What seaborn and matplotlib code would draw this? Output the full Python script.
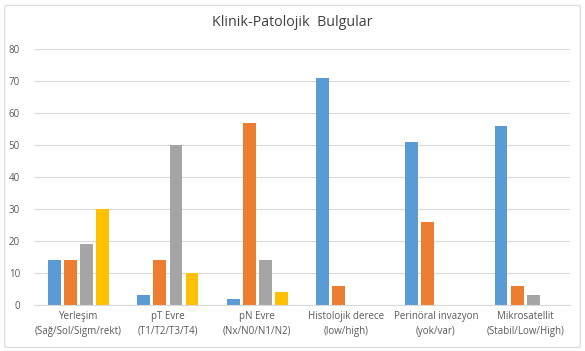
import matplotlib
matplotlib.use("Agg")
import matplotlib.pyplot as plt
import seaborn as sns
import pandas as pd
import numpy as np
from matplotlib.patches import FancyBboxPatch

categories = ["Yerleşim\n(Sağ/Sol/Sigm/rekt)", "pT Evre\n(T1/T2/T3/T4)", "pN Evre\n(Nx/N0/N1/N2)",
              "Histolojik derece\n(low/high)", "Perinöral invazyon\n(yok/var)", "Mikrosatellit\n(Stabil/Low/High)"]
series_names = ["Seri 1", "Seri 2", "Seri 3", "Seri 4"]
seri1 = [14, 3, 2, 71, 51, 56]
seri2 = [14, 14, 57, 6, 26, 6]
seri3 = [19, 50, 14, np.nan, np.nan, 3]
seri4 = [30, 10, 4, np.nan, np.nan, np.nan]
colors = ["#5B9BD5", "#ED7D31", "#A5A5A5", "#FFC000"]
yticks = [0, 10, 20, 30, 40, 50, 60, 70, 80]

rows = []
for name, vals in zip(series_names, [seri1, seri2, seri3, seri4]):
    for c, v in zip(categories, vals):
        rows.append({"cat": c, "series": name, "value": v})
df = pd.DataFrame(rows)

sns.set_theme(style="white")
plt.rcParams["font.family"] = ["Open Sans", "DejaVu Sans"]

fig = plt.figure(figsize=(5.85, 3.51), dpi=100)
ax = fig.add_axes([0.058, 0.131, 0.916, 0.729])
sns.barplot(data=df, x="cat", y="value", hue="series", order=categories, hue_order=series_names,
            palette=colors, width=0.72, gap=0.2, saturation=1, ax=ax, legend=False, errorbar=None,
            linewidth=0)

ax.set_xlim(-0.5, 5.5)
ax.set_ylim(0, 80)
ax.set_yticks(yticks)
ax.yaxis.grid(True, color="#D9D9D9", linewidth=0.8)
ax.set_axisbelow(True)
for s in ["top", "right", "left"]:
    ax.spines[s].set_visible(False)
ax.spines["bottom"].set_color("#D9D9D9")
ax.spines["bottom"].set_linewidth(0.8)
ax.set_xlabel("")
ax.set_ylabel("")
ax.tick_params(axis="both", length=0, labelsize=7, colors="#595959", pad=4)
ax.tick_params(axis="y", pad=10)
for lbl in ax.get_xticklabels():
    lbl.set_linespacing(1.5)
fig.text(0.5, 0.935, "Klinik-Patolojik  Bulgular", fontsize=10.3, color="#404040",
         ha="center", va="center")

border = FancyBboxPatch((0.008, 0.01), 0.984, 0.975, boxstyle="round,pad=0,rounding_size=0.005",
                        transform=fig.transFigure, fill=False, edgecolor="#D9D9D9", linewidth=0.8)
fig.patches.append(border)

fig.savefig("out.png", dpi=100)
